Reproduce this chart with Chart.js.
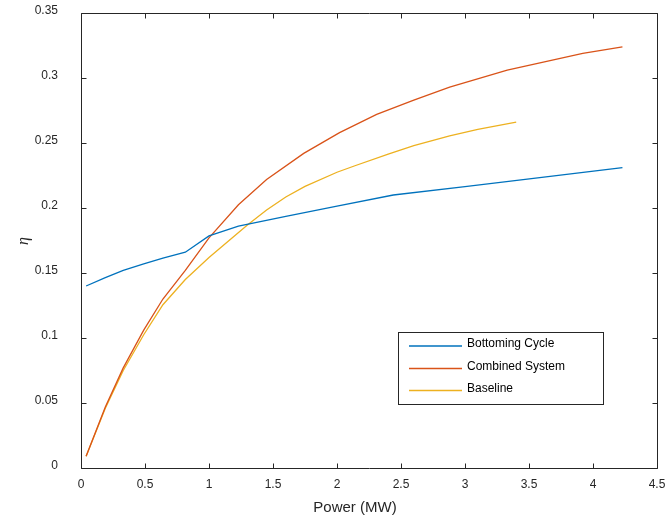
<!DOCTYPE html>
<html>
<head>
<meta charset="utf-8">
<script src="https://cdn.jsdelivr.net/npm/chart.js@4/dist/chart.umd.min.js"></script>
<style>
  html, body { margin: 0; padding: 0; background: #fff; }
  canvas { display: block; }
</style>
</head>
<body>
<canvas id="c" width="672" height="519"></canvas>
<script>
// ---- Data ----
const seriesNames = ["Bottoming Cycle", "Combined System", "Baseline"];

const bottomX = [0.04, 0.19, 0.33, 0.49, 0.64, 0.815, 1.0, 1.23, 1.6, 2.0, 2.44, 3.0, 3.6, 4.23];
const bottomY = [0.140, 0.1465, 0.152, 0.157, 0.1615, 0.166, 0.1785, 0.186, 0.1935, 0.2015, 0.210, 0.2165, 0.2235, 0.231];

const combinedX = [0.04, 0.19, 0.33, 0.49, 0.64, 0.815, 1.0, 1.23, 1.45, 1.74, 2.02, 2.31, 2.6, 2.88, 3.33, 3.92, 4.23];
const combinedY = [0.009, 0.047, 0.077, 0.106, 0.130, 0.152, 0.177, 0.2025, 0.222, 0.242, 0.258, 0.272, 0.283, 0.293, 0.306, 0.319, 0.324];

const baselineX = [0.04, 0.19, 0.33, 0.49, 0.64, 0.815, 1.0, 1.15, 1.3, 1.45, 1.6, 1.75, 2.0, 2.14, 2.4, 2.6, 2.88, 3.1, 3.4];
const baselineY = [0.009, 0.046, 0.075, 0.1025, 0.1256, 0.145, 0.162, 0.1745, 0.187, 0.1985, 0.2085, 0.2166, 0.2275, 0.2325, 0.2415, 0.248, 0.2555, 0.2605, 0.266];

const xTickValues = [0, 0.5, 1, 1.5, 2, 2.5, 3, 3.5, 4, 4.5];
const xTickLabels = ["0", "0.5", "1", "1.5", "2", "2.5", "3", "3.5", "4", "4.5"];
const yTickValues = [0, 0.05, 0.1, 0.15, 0.2, 0.25, 0.3, 0.35];
const yTickLabels = ["0", "0.05", "0.1", "0.15", "0.2", "0.25", "0.3", "0.35"];

const xTitle = "Power (MW)";
const yTitle = "\u03B7";

const colors = ["#0072BD", "#D95319", "#EDB120"];
const textColor = "#262626";

function pts(xs, ys) { return xs.map((x, i) => ({ x: x, y: ys[i] })); }

// ---- Plugins ----
const matlabAxes = {
  id: 'matlabAxes',
  afterDatasetsDraw(chart) {
    const { ctx, chartArea: a, scales } = chart;
    ctx.save();
    ctx.strokeStyle = textColor;
    ctx.lineWidth = 1;
    const L = Math.round(a.left) + 0.5, R = Math.round(a.right) + 0.5;
    const T = Math.round(a.top) + 0.5, B = Math.round(a.bottom) + 0.5;
    ctx.beginPath();
    ctx.rect(L, T, R - L, B - T);
    ctx.stroke();
    const tl = 5;
    ctx.beginPath();
    scales.x.ticks.forEach(t => {
      const px = Math.round(scales.x.getPixelForValue(t.value)) + 0.5;
      ctx.moveTo(px, B); ctx.lineTo(px, B - tl);
      ctx.moveTo(px, T); ctx.lineTo(px, T + tl);
    });
    scales.y.ticks.forEach(t => {
      const py = Math.round(scales.y.getPixelForValue(t.value)) + 0.5;
      ctx.moveTo(L, py); ctx.lineTo(L + tl, py);
      ctx.moveTo(R, py); ctx.lineTo(R - tl, py);
    });
    ctx.stroke();
    ctx.restore();
  },
  afterDraw(chart) {
    const { ctx } = chart;
    ctx.save();
    // axis titles
    ctx.fillStyle = textColor;
    ctx.font = '15px "Liberation Sans", Arial, sans-serif';
    ctx.textAlign = 'center';
    ctx.textBaseline = 'middle';
    ctx.fillText(xTitle, 355, 508);
    ctx.save();
    ctx.translate(24, 241);
    ctx.rotate(-Math.PI / 2);
    ctx.font = 'italic 16px "Liberation Serif", "DejaVu Serif", serif';
    ctx.fillText(yTitle, 0, 0);
    ctx.restore();

    // legend
    const bx = 398.5, by = 332.5, bw = 205, bh = 72;
    ctx.fillStyle = '#fff';
    ctx.fillRect(bx, by, bw, bh);
    ctx.strokeStyle = textColor;
    ctx.lineWidth = 1;
    ctx.strokeRect(bx, by, bw, bh);
    const rows = [346, 368.5, 390.5];
    chart.data.datasets.forEach((ds, i) => {
      ctx.strokeStyle = ds.borderColor;
      ctx.lineWidth = 1.3;
      ctx.beginPath();
      ctx.moveTo(409, rows[i]);
      ctx.lineTo(462, rows[i]);
      ctx.stroke();
      ctx.fillStyle = '#000';
      ctx.font = '12px "Liberation Sans", Arial, sans-serif';
      ctx.textAlign = 'left';
      ctx.textBaseline = 'middle';
      ctx.fillText(ds.label, 467, rows[i] - 2);
    });
    ctx.restore();
  }
};

const ds = [
  { label: seriesNames[0], data: pts(bottomX, bottomY) },
  { label: seriesNames[1], data: pts(combinedX, combinedY) },
  { label: seriesNames[2], data: pts(baselineX, baselineY) }
].map((d, i) => Object.assign(d, {
  borderColor: colors[i], backgroundColor: colors[i], borderWidth: 1.3,
  pointRadius: 0, tension: 0, fill: false
}));

new Chart(document.getElementById('c'), {
  type: 'line',
  data: { datasets: ds },
  options: {
    responsive: false,
    devicePixelRatio: 1,
    animation: false,
    layout: { padding: { left: 0, top: 13, right: 15, bottom: 0 } },
    plugins: { legend: { display: false }, tooltip: { enabled: false } },
    scales: {
      x: {
        type: 'linear', min: 0, max: 4.5,
        grid: { display: false }, border: { display: false },
        afterBuildTicks: s => { s.ticks = xTickValues.map(v => ({ value: v })); },
        afterFit: s => { s.height = 51; s.paddingLeft = 0; s.paddingRight = 0; },
        ticks: {
          padding: 1, color: textColor, maxRotation: 0, autoSkip: false,
          font: { family: '"Liberation Sans", Arial, sans-serif', size: 12 },
          callback: (v) => { const k = xTickValues.indexOf(v); return k >= 0 ? xTickLabels[k] : ''; }
        }
      },
      y: {
        type: 'linear', min: 0, max: 0.35,
        grid: { display: false }, border: { display: false },
        afterBuildTicks: s => { s.ticks = yTickValues.map(v => ({ value: v })); },
        afterFit: s => { s.width = 81; s.paddingTop = 0; s.paddingBottom = 0; },
        ticks: {
          padding: 15, color: textColor, labelOffset: -2, autoSkip: false,
          font: { family: '"Liberation Sans", Arial, sans-serif', size: 12 },
          callback: (v) => { const k = yTickValues.findIndex(t => Math.abs(t - v) < 1e-9); return k >= 0 ? yTickLabels[k] : ''; }
        }
      }
    }
  },
  plugins: [matlabAxes]
});
</script>
</body>
</html>
